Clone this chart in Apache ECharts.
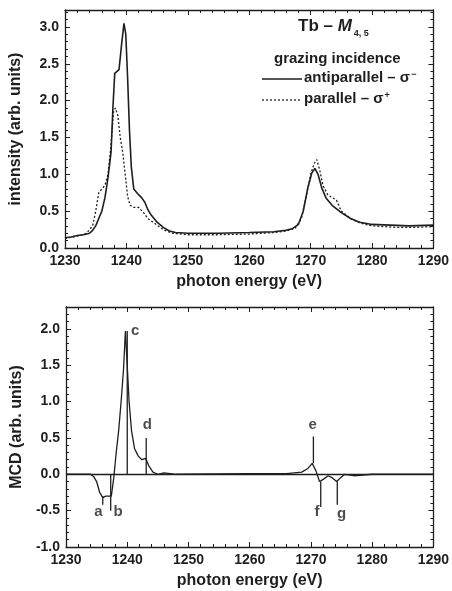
<!DOCTYPE html>
<html><head><meta charset="utf-8">
<script src="https://cdn.jsdelivr.net/npm/echarts@6/dist/echarts.min.js"></script>
<style>html,body{margin:0;padding:0;background:#fff}#c{width:452px;height:591px}</style>
</head><body><div id="c"></div>
<script>
// Top panel: Tb M4,5 XAS, grazing incidence
const antiE = [1230,1231,1232,1233,1234,1234.5,1235,1235.5,1236,1236.5,1237,1237.5,1237.8,1238.1,1238.8,1239.2,1239.6,1239.9,1240.2,1240.5,1240.8,1241.2,1241.8,1242.5,1243,1243.5,1244,1245,1246,1247,1248,1250,1255,1260,1264,1266,1267,1268,1268.8,1269.5,1270.2,1270.7,1271.2,1271.8,1272.5,1273.5,1275,1276.5,1278,1280,1283,1286,1290];
const antiI = [0.14,0.15,0.17,0.18,0.2,0.24,0.3,0.4,0.5,0.68,0.95,1.3,1.9,2.37,2.42,2.75,3.05,2.9,2.3,1.6,1.1,0.8,0.74,0.68,0.62,0.52,0.45,0.35,0.28,0.23,0.21,0.2,0.2,0.21,0.22,0.24,0.26,0.32,0.5,0.8,1.02,1.08,1.0,0.82,0.68,0.58,0.48,0.4,0.35,0.32,0.31,0.3,0.31];
const paraE = [1230,1232,1233.5,1234.5,1235,1235.5,1236,1236.5,1237,1237.5,1237.9,1238.2,1238.6,1239,1239.4,1239.8,1240.2,1240.6,1241.2,1242,1242.8,1243.5,1244.5,1246,1247.5,1250,1255,1260,1264,1266,1267.5,1268.5,1269.3,1270,1270.6,1271,1271.5,1272,1272.8,1273.6,1274.2,1275,1276.5,1278,1280,1284,1287,1290];
const paraI = [0.13,0.16,0.2,0.3,0.5,0.75,0.8,0.85,1.0,1.4,1.85,1.9,1.8,1.5,1.3,1.0,0.7,0.58,0.55,0.55,0.48,0.4,0.34,0.25,0.2,0.18,0.18,0.19,0.21,0.23,0.27,0.4,0.7,1.0,1.15,1.2,1.05,0.85,0.72,0.68,0.65,0.5,0.4,0.34,0.3,0.28,0.28,0.29];
// Bottom panel: MCD
const mcdE = [1230,1234,1234.5,1235,1235.5,1236,1236.5,1237,1237.4,1237.8,1238.2,1238.6,1239,1239.4,1239.7,1240,1240.3,1240.7,1241.2,1241.8,1242.4,1243,1243.5,1244.2,1245,1246,1247,1248,1260,1266,1268.5,1269.5,1270.2,1270.8,1271.4,1272,1272.8,1273.5,1274.2,1274.8,1275.5,1277,1280,1290];
const mcdV = [0,0,-0.03,-0.1,-0.25,-0.32,-0.3,-0.3,-0.3,-0.05,0.3,0.6,1.0,1.45,1.97,1.5,1.0,0.6,0.35,0.25,0.2,0.22,0.12,0.03,0,0.02,0.01,0,0.01,0.01,0.03,0.08,0.15,0.05,-0.1,-0.07,-0.02,-0.05,-0.1,-0.05,0,-0.02,0,0];
// feature markers a–g
const featNames = ['a','b','c','d','e','f','g'];
const featE    = [1236.0,1237.3,1240.0,1243.1,1270.4,1271.6,1274.3];
const featFrom = [-0.3,0,0,0,0.15,-0.1,-0.1];
const featTo   = [-0.42,-0.5,1.97,0.5,0.52,-0.45,-0.42];
const featLabE = [1235.3,1238.5,1241.3,1243.3,1270.3,1271.0,1275.0];
const featLabV = [-0.52,-0.52,1.97,0.68,0.68,-0.52,-0.55];

const ink = '#1e1e1e';
const font = 'Liberation Sans';
const zip = (a,b)=>a.map((v,i)=>[v,b[i]]);

function xAx(grid, top){
  return {type:'value', gridIndex:grid, min:1230, max:1290, interval:10, position: top?'top':'bottom',
    axisLine:{show:true, onZero:false, lineStyle:{color:ink,width:1.3}},
    axisTick:{show:true, inside:true, length:5, lineStyle:{color:ink}},
    minorTick:{show:true, splitNumber:5, length:3, lineStyle:{color:ink}},
    splitLine:{show:false},
    axisLabel:{show:!top, color:ink, fontFamily:font, fontWeight:'bold', fontSize:14, margin:6, formatter:v=>String(v)},
    name: top?'':'photon energy (eV)', nameLocation:'middle', nameGap:26,
    nameTextStyle:{color:ink, fontFamily:font, fontWeight:'bold', fontSize:16}};
}
function yAx(grid, right, min, max, name){
  return {type:'value', gridIndex:grid, min:min, max:max, interval:0.5, position: right?'right':'left',
    axisLine:{show:true, onZero:false, lineStyle:{color:ink,width:1.3}},
    axisTick:{show:true, inside:true, length:5, lineStyle:{color:ink}},
    minorTick:{show:true, splitNumber:5, length:3, lineStyle:{color:ink}},
    splitLine:{show:false},
    axisLabel:{show:!right, showMaxLabel:false, color:ink, fontFamily:font, fontWeight:'bold', fontSize:14, margin:6,
      formatter:v=>v.toFixed(1)},
    name: right?'':name, nameLocation:'middle', nameGap:41,
    nameTextStyle:{color:ink, fontFamily:font, fontWeight:'bold', fontSize:16}};
}

const chart = echarts.init(document.getElementById('c'), null, {renderer:'canvas'});
const featSeries = featE.map((e,i)=>({type:'line', xAxisIndex:2, yAxisIndex:2, data:[[e,featFrom[i]],[e,featTo[i]]],
  showSymbol:false, symbol:'none', lineStyle:{color:ink,width:1.3}, silent:true, z:3}));

const supRich = {sup:{fontFamily:font, fontWeight:'bold', fontSize:9, fill:ink, verticalAlign:'top', padding:[0,0,7,1]}};
chart.setOption({
  animation:false,
  backgroundColor:'#fff',
  grid:[{left:65, right:18, top:10, height:238},{left:66, right:18, top:307, height:240}],
  xAxis:[xAx(0,false), xAx(0,true), xAx(1,false), xAx(1,true)],
  yAxis:[yAx(0,false,0,3.23,'intensity (arb. units)'), yAx(0,true,0,3.23,''), yAx(1,false,-1,2.3,'MCD (arb. units)'), yAx(1,true,-1,2.3,'')],
  graphic:[
    {type:'text', left:298, top:18, style:{text:'Tb – {i|M}{sub|4, 5}', fontFamily:font, fontWeight:'bold', fontSize:17, fill:ink,
      rich:{i:{fontFamily:font, fontWeight:'bold', fontStyle:'italic', fontSize:17, fill:ink},
            sub:{fontFamily:font, fontWeight:'bold', fontSize:9, fill:ink, padding:[14,0,0,2]}}}},
    {type:'text', left:274, top:51, style:{text:'grazing incidence', fontFamily:font, fontWeight:'bold', fontSize:15, fill:ink}},
    {type:'line', shape:{x1:262,y1:79,x2:302,y2:79}, style:{stroke:ink, lineWidth:1.6}},
    {type:'line', shape:{x1:262,y1:100,x2:302,y2:100}, style:{stroke:ink, lineWidth:1.3, lineDash:[2,2]}},
    {type:'text', left:304, top:70, style:{text:'antiparallel – σ{sup|−}', fontFamily:font, fontWeight:'bold', fontSize:15, fill:ink, rich:supRich}},
    {type:'text', left:304, top:91, style:{text:'parallel – σ{sup|+}', fontFamily:font, fontWeight:'bold', fontSize:15, fill:ink, rich:supRich}}
  ],
  series:[
    {name:'anti', type:'line', xAxisIndex:0, yAxisIndex:0, data:zip(antiE,antiI), showSymbol:false, symbol:'none',
      lineStyle:{color:ink,width:1.6}},
    {name:'para', type:'line', xAxisIndex:0, yAxisIndex:0, data:zip(paraE,paraI), showSymbol:false, symbol:'none',
      lineStyle:{color:ink,width:1.3,type:[2,2]}},
    {name:'mcd', type:'line', xAxisIndex:2, yAxisIndex:2, data:zip(mcdE,mcdV), showSymbol:false, symbol:'none',
      lineStyle:{color:ink,width:1.3},
      markLine:{silent:true, symbol:'none', label:{show:false}, lineStyle:{color:ink,width:1.3,type:'solid'}, data:[{yAxis:0}]}},
    ...featSeries,
    {type:'scatter', xAxisIndex:2, yAxisIndex:2, symbolSize:0, data:zip(featLabE,featLabV).map((p,i)=>({value:p,name:featNames[i]})),
      label:{show:true, position:'inside', formatter:p=>p.name, color:ink, fontFamily:font, fontWeight:'bold', fontSize:15}, silent:true}
  ]
});
</script></body></html>
